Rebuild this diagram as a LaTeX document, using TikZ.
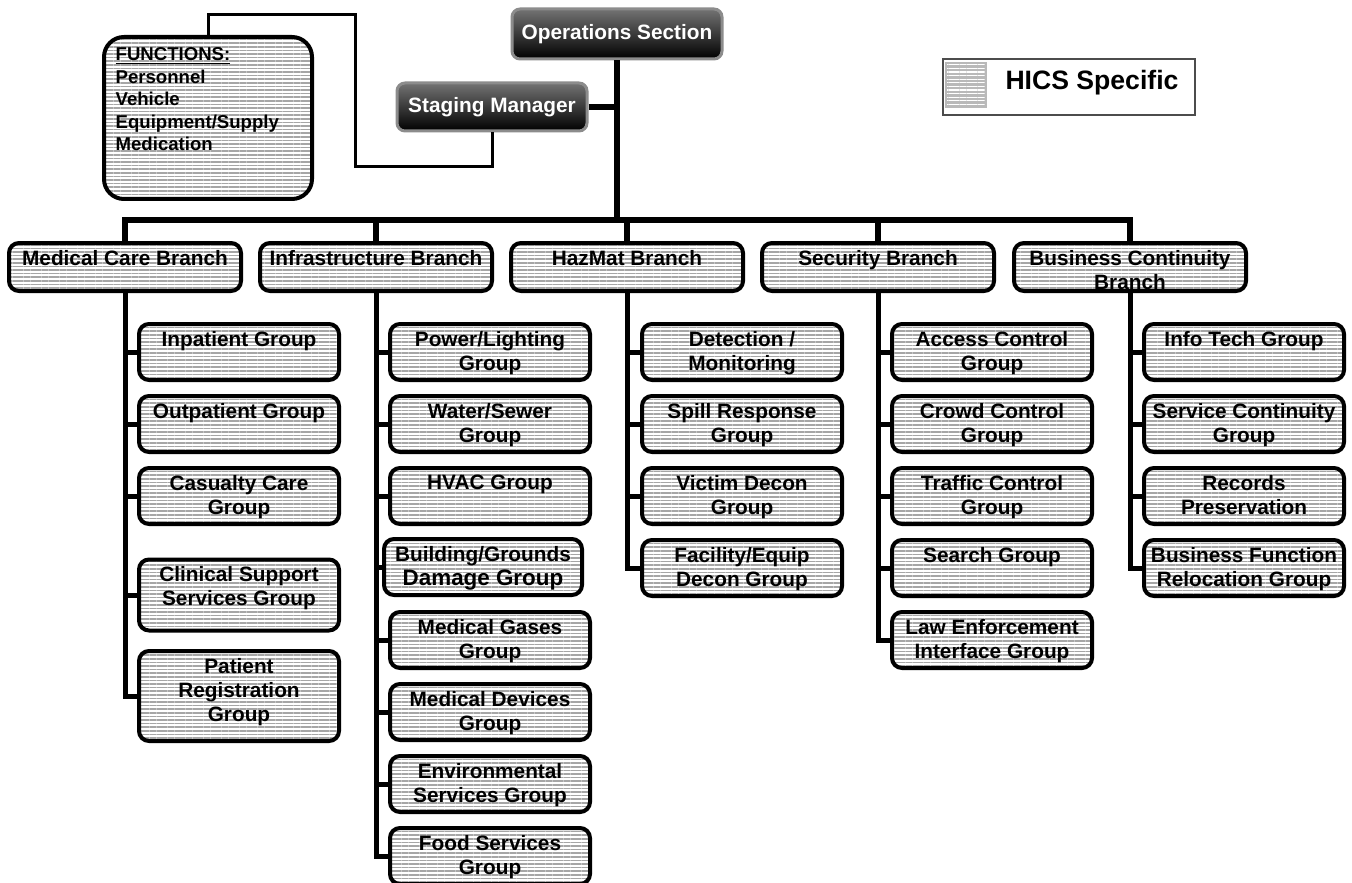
\documentclass[tikz,border=0pt]{standalone}
\usepackage{fontspec}
\setmainfont{Liberation Sans}
\usetikzlibrary{patterns.meta}

\newcommand\boxfont{\fontsize{10.4}{12}\selectfont\bfseries}
\newcommand\fnfont{\fontsize{9.3}{11.25}\selectfont\bfseries}
\newcommand\legfont{\fontsize{13.3}{15}\selectfont\bfseries}

\tikzset{
  stripes/.style={pattern={Lines[angle=0,distance=1.8pt,line width=0.75pt]}, pattern color=gray!70},
  branch/.style={draw, line width=2pt, rounded corners=5pt, stripes, minimum width=116pt, minimum height=24pt, inner sep=0pt},
  grp/.style={draw, line width=2pt, rounded corners=5pt, stripes, minimum width=100pt, minimum height=28pt, inner sep=0pt},
  lbl/.style={anchor=north, inner sep=0pt, yshift=-4.5pt, align=center, font=\boxfont},
  chief/.style={draw=black!45, line width=1.5pt, rounded corners=4pt, top color=black!55, bottom color=black, text=white, font=\boxfont, minimum height=25pt, inner sep=0pt},
  link/.style={line width=3pt},
  stem/.style={line width=2.5pt},
  fnline/.style={line width=1.5pt},
}

\begin{document}
\begin{tikzpicture}[x=0.5pt,y=-0.5pt]
  \useasboundingbox (0,0) rectangle (1352,882);

  % command level
  \node[chief, minimum width=105pt] (ops) at (617,34) {Operations Section};
  \node[chief, minimum width=95pt, minimum height=24pt] (stag) at (492,107) {Staging Manager};
  \node[draw, line width=2pt, rounded corners=10pt, stripes, minimum width=104pt, minimum height=81pt,
        label={[anchor=north west, inner sep=0pt, xshift=6pt, yshift=-5.5pt, align=left, font=\fnfont]north west:{\underline{FUNCTIONS:}\\Personnel\\Vehicle\\Equipment/Supply\\Medication}}] (func) at (208,118) {};

  % legend
  \node[draw=black!70, line width=0.6pt, minimum width=126pt, minimum height=28pt] (legend) at (1069,87) {};
  \node[draw=gray!55, line width=0.8pt, preaction={fill=gray!55}, pattern={Lines[angle=0,distance=1.8pt,line width=0.6pt]}, pattern color=white, minimum width=20pt, minimum height=22pt, inner sep=0pt] (swatch) at (966,85) {};
  \node[font=\legfont] (legtxt) at (1092,83) {HICS Specific};

  % branches
  \node[branch, label={[lbl]north:Medical Care Branch}] (med) at (125,267) {};
  \node[branch, label={[lbl]north:Infrastructure Branch}] (infra) at (376,267) {};
  \node[branch, label={[lbl]north:HazMat Branch}] (hazmat) at (627,267) {};
  \node[branch, label={[lbl]north:Security Branch}] (secur) at (878,267) {};
  \node[branch, label={[lbl]north:Business Continuity\\Branch}] (busi) at (1130,267) {};

  % medical care groups
  \node[grp, label={[lbl]north:Inpatient Group}] (inpat) at (239,352) {};
  \node[grp, label={[lbl]north:Outpatient Group}] (outpat) at (239,424) {};
  \node[grp, label={[lbl]north:Casualty Care\\Group}] (casualty) at (239,496) {};
  \node[grp, minimum height=35.5pt, label={[lbl]north:Clinical Support\\Services Group}] (clinical) at (239,595) {};
  \node[grp, minimum height=45pt, label={[lbl]north:Patient\\Registration\\Group}] (patreg) at (239,696) {};

  % infrastructure groups
  \node[grp, label={[lbl]north:Power/Lighting\\Group}] (power) at (490,352) {};
  \node[grp, label={[lbl]north:Water/Sewer\\Group}] (water) at (490,424) {};
  \node[grp, label={[lbl]north:HVAC Group}] (hvac) at (490,496) {};
  \node[grp, minimum width=99pt, label={[lbl]north:Building/Grounds\\{\fontsize{11.2}{12}\selectfont Damage Group}}] (bldg) at (483,567) {};
  \node[grp, label={[lbl]north:Medical Gases\\Group}] (gases) at (490,640) {};
  \node[grp, label={[lbl]north:Medical Devices\\Group}] (devices) at (490,712) {};
  \node[grp, label={[lbl]north:Environmental\\Services Group}] (environ) at (490,784) {};
  \node[grp, label={[lbl]north:Food Services\\Group}] (food) at (490,856) {};

  % hazmat groups
  \node[grp, label={[lbl]north:Detection /\\Monitoring}] (detect) at (742,352) {};
  \node[grp, label={[lbl]north:Spill Response\\Group}] (spill) at (742,424) {};
  \node[grp, label={[lbl]north:Victim Decon\\Group}] (victim) at (742,496) {};
  \node[grp, label={[lbl]north:Facility/Equip\\Decon Group}] (facility) at (742,568) {};

  % security groups
  \node[grp, label={[lbl]north:Access Control\\Group}] (access) at (992,352) {};
  \node[grp, label={[lbl]north:Crowd Control\\Group}] (crowd) at (992,424) {};
  \node[grp, label={[lbl]north:Traffic Control\\Group}] (traffic) at (992,496) {};
  \node[grp, label={[lbl]north:Search Group}] (search) at (992,568) {};
  \node[grp, label={[lbl]north:Law Enforcement\\Interface Group}] (lawenf) at (992,640) {};

  % business continuity groups
  \node[grp, label={[lbl]north:Info Tech Group}] (infotech) at (1244,352) {};
  \node[grp, label={[lbl]north:Service Continuity\\Group}] (service) at (1244,424) {};
  \node[grp, label={[lbl]north:Records\\Preservation}] (records) at (1244,496) {};
  \node[grp, label={[lbl]north:Business Function\\Relocation Group}] (relocate) at (1244,568) {};

  % connectors
  \coordinate (bus) at (617,220);
  \coordinate (fa) at (355,15);
  \coordinate (fb) at (355,167);
  \draw[link] (ops.south) -- (bus);
  \draw[link] (stag.east) -- (stag.east -| ops.south);
  \draw[fnline] (func.north) |- (fa) -- (fb) -| (stag.south);
  \draw[link] (med.north) -- (med.north |- bus) -- (busi.north |- bus) -- (busi.north);
  \draw[link] (infra.north) -- (infra.north |- bus);
  \draw[link] (hazmat.north) -- (hazmat.north |- bus);
  \draw[link] (secur.north) -- (secur.north |- bus);

  \draw[stem] (med.south) |- (inpat.west) (med.south) |- (outpat.west) (med.south) |- (casualty.west)
              (med.south) |- (clinical.west) (med.south) |- (patreg.west);
  \draw[stem] (infra.south) |- (power.west) (infra.south) |- (water.west) (infra.south) |- (hvac.west)
              (infra.south) |- (bldg.west) (infra.south) |- (gases.west) (infra.south) |- (devices.west)
              (infra.south) |- (environ.west) (infra.south) |- (food.west);
  \draw[stem] (hazmat.south) |- (detect.west) (hazmat.south) |- (spill.west) (hazmat.south) |- (victim.west)
              (hazmat.south) |- (facility.west);
  \draw[stem] (secur.south) |- (access.west) (secur.south) |- (crowd.west) (secur.south) |- (traffic.west)
              (secur.south) |- (search.west) (secur.south) |- (lawenf.west);
  \draw[stem] (busi.south) |- (infotech.west) (busi.south) |- (service.west) (busi.south) |- (records.west)
              (busi.south) |- (relocate.west);
\end{tikzpicture}
\end{document}
